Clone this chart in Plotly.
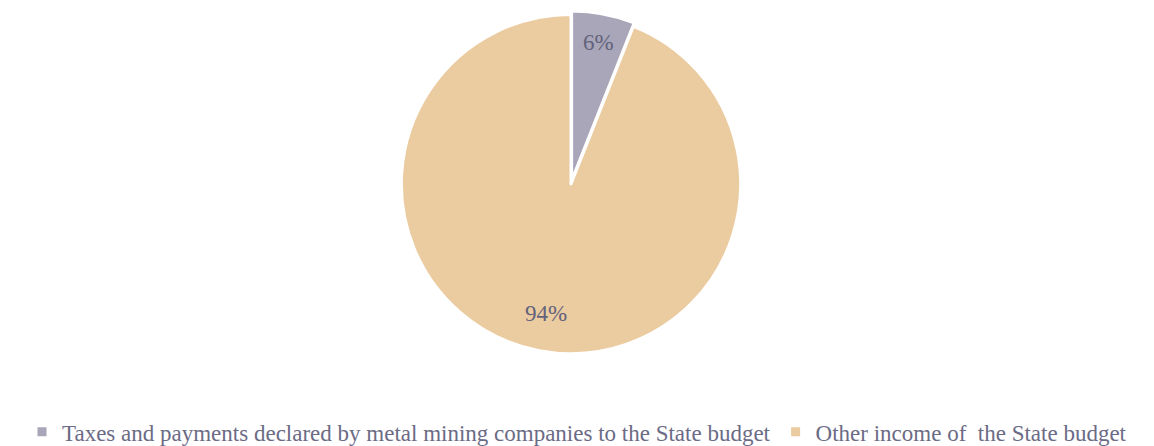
import math
import plotly.graph_objects as go

# State budget income shares
labels = [
    "Taxes and payments declared by metal mining companies to the State budget",
    "Other income of  the State budget",
]
values = [6, 94]
colors = ["#A8A6B8", "#EBCBA0"]
pulls = [0.02, 0]
label_radius = [0.85, 0.78]  # label distance from centre, as a fraction of the radius

W, H = 1154, 446
M = dict(l=0, r=12, t=11, b=89)
plot_w = W - M["l"] - M["r"]
plot_h = H - M["t"] - M["b"]
radius_px = min(plot_w, plot_h) / 2 / (1 + max(pulls))

fig = go.Figure(
    go.Pie(
        labels=labels,
        values=values,
        sort=False,
        direction="clockwise",
        rotation=0,
        pull=pulls,
        marker=dict(colors=colors, line=dict(color="#FFFFFF", width=3)),
        textinfo="none",
        hoverinfo="label+percent",
    )
)

# percentage labels placed along each slice's mid-angle
total = sum(values)
start = 0.0
annotations = []
for v, rf in zip(values, label_radius):
    mid = (start + v / 2) / total * 2 * math.pi
    start += v
    dx = rf * radius_px * math.sin(mid)
    dy = rf * radius_px * math.cos(mid)
    annotations.append(
        dict(
            x=0.5 + dx / plot_w,
            y=0.5 + dy / plot_h,
            xref="paper",
            yref="paper",
            xanchor="center",
            yanchor="middle",
            text=f"{round(100 * v / total)}%",
            showarrow=False,
            font=dict(family="Liberation Serif", size=23, color="#62627C"),
        )
    )

fig.update_layout(
    width=W,
    height=H,
    margin=dict(**M, autoexpand=False),
    paper_bgcolor="#FFFFFF",
    plot_bgcolor="#FFFFFF",
    font=dict(family="Liberation Serif", size=23, color="#6B6B85"),
    showlegend=True,
    annotations=annotations,
    legend=dict(
        orientation="h",
        xref="container",
        yref="container",
        x=0.5,
        xanchor="center",
        y=0.032,
        yanchor="middle",
        borderwidth=0,
        font=dict(family="Liberation Serif", size=23, color="#6B6B85"),
    ),
)

fig.write_html("out.html")
